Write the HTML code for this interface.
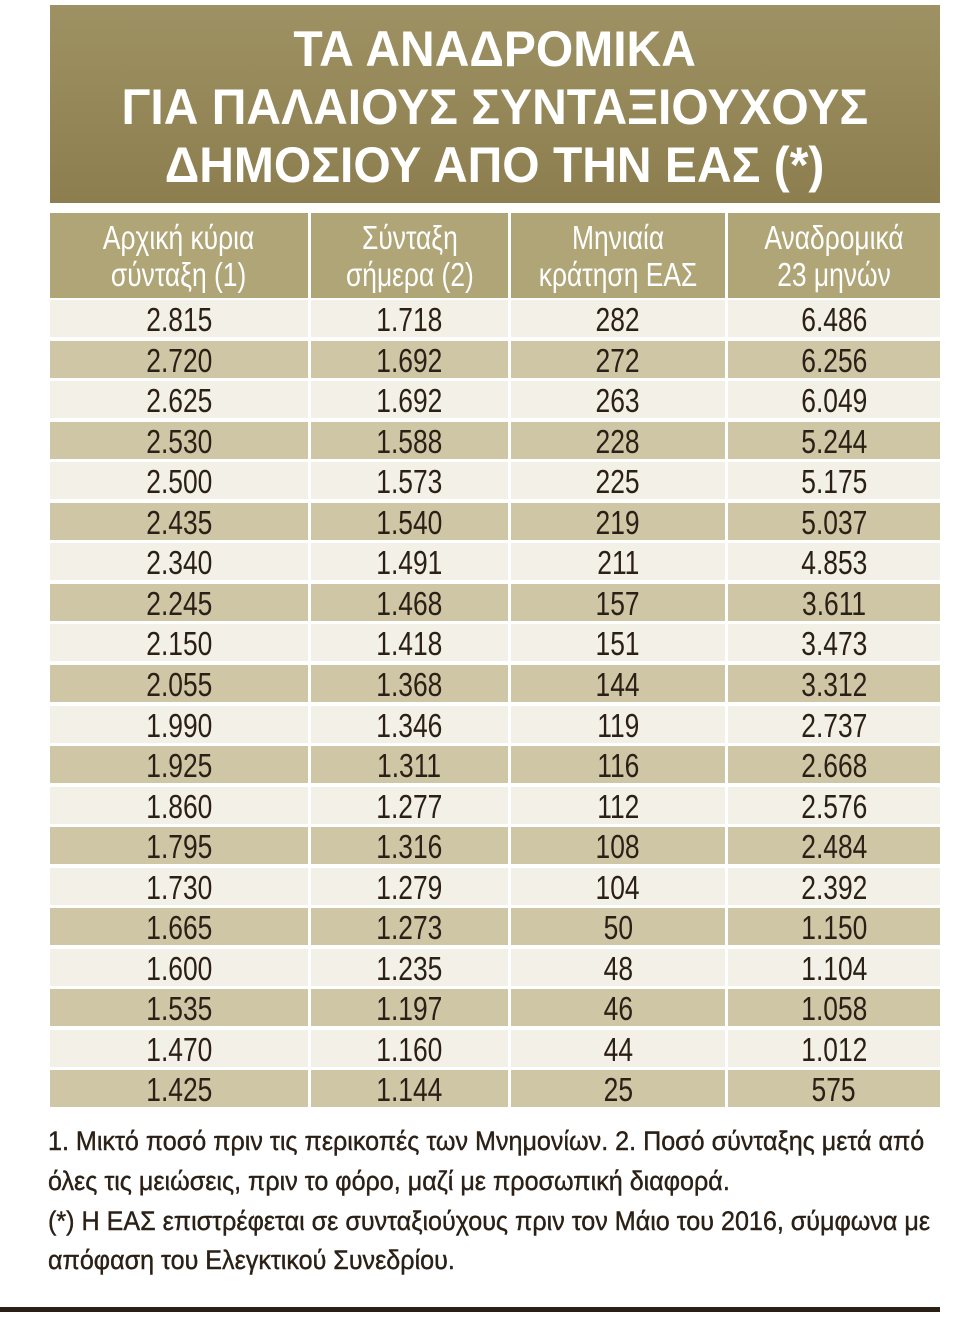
<!DOCTYPE html>
<html><head><meta charset="utf-8"><style>
body{margin:0;width:974px;height:1331px;background:#fff;position:relative;overflow:hidden;font-family:"Liberation Sans","DejaVu Sans",sans-serif;}
.t{position:absolute;left:50px;top:5px;width:890px;height:198px;background:linear-gradient(#9e9163,#8c7e4e);}
.tl{position:absolute;left:0;width:890px;text-align:center;color:#fff;font-weight:bold;font-size:50px;line-height:58px;}
.tl span{display:inline-block;transform:scaleX(0.96);white-space:nowrap}
.c{position:absolute;text-align:center;overflow:hidden;white-space:nowrap}
.c span{display:inline-block;transform:scaleX(0.8)}
.h{background:#b0a577;color:#fff;font-size:33px;line-height:37px;padding-top:6px;box-sizing:border-box}
.r{font-size:33px;color:#2b2016;line-height:40px}
.fn{position:absolute;left:48px;width:1100px;font-size:27px;color:#2b2016;transform-origin:0 0;transform:scaleX(0.93);white-space:nowrap;-webkit-text-stroke:0.4px #2b2016}
</style></head><body>
<div class="t">
<div class="tl" style="top:15px"><span>ΤΑ ΑΝΑΔΡΟΜΙΚΑ</span></div>
<div class="tl" style="top:73px"><span>ΓΙΑ ΠΑΛΑΙΟΥΣ ΣΥΝΤΑΞΙΟΥΧΟΥΣ</span></div>
<div class="tl" style="top:131px"><span>ΔΗΜΟΣΙΟΥ ΑΠΟ ΤΗΝ ΕΑΣ (*)</span></div>
</div>
<div id="tb"></div>
<div class="fn" style="top:1126px">1. Μικτό ποσό πριν τις περικοπές των Μνημονίων. 2. Ποσό σύνταξης μετά από</div>
<div class="fn" style="top:1166px">όλες τις μειώσεις, πριν το φόρο, μαζί με προσωπική διαφορά.</div>
<div class="fn" style="top:1206px">(*) Η ΕΑΣ επιστρέφεται σε συνταξιούχους πριν τον Μάιο του 2016, σύμφωνα με</div>
<div class="fn" style="top:1245px">απόφαση του Ελεγκτικού Συνεδρίου.</div>
<div style="position:absolute;left:0;top:1307px;width:940px;height:5px;background:#2b2016"></div>
<script>
var cols=[[50,258],[311,197],[511,214],[728,212]];
var hd=["Αρχική κύρια<br>σύνταξη (1)","Σύνταξη<br>σήμερα (2)","Μηνιαία<br>κράτηση ΕΑΣ","Αναδρομικά<br>23 μηνών"];
var d=[["2.815","1.718","282","6.486"],["2.720","1.692","272","6.256"],["2.625","1.692","263","6.049"],["2.530","1.588","228","5.244"],["2.500","1.573","225","5.175"],["2.435","1.540","219","5.037"],["2.340","1.491","211","4.853"],["2.245","1.468","157","3.611"],["2.150","1.418","151","3.473"],["2.055","1.368","144","3.312"],["1.990","1.346","119","2.737"],["1.925","1.311","116","2.668"],["1.860","1.277","112","2.576"],["1.795","1.316","108","2.484"],["1.730","1.279","104","2.392"],["1.665","1.273","50","1.150"],["1.600","1.235","48","1.104"],["1.535","1.197","46","1.058"],["1.470","1.160","44","1.012"],["1.425","1.144","25","575"]];
var h="";
for(var j=0;j<4;j++){h+='<div class="c h" style="left:'+cols[j][0]+'px;top:213px;width:'+cols[j][1]+'px;height:85px"><span>'+hd[j]+'</span></div>';}
for(var i=0;i<20;i++){var y=300+i*40.55;var bg=i%2?"#cfc6a6":"#f3f0e8";
for(var j=0;j<4;j++){h+='<div class="c r" style="left:'+cols[j][0]+'px;top:'+y+'px;width:'+cols[j][1]+'px;height:37px;background:'+bg+'"><span>'+d[i][j]+'</span></div>';}}
document.getElementById("tb").innerHTML=h;
</script>
</body></html>
